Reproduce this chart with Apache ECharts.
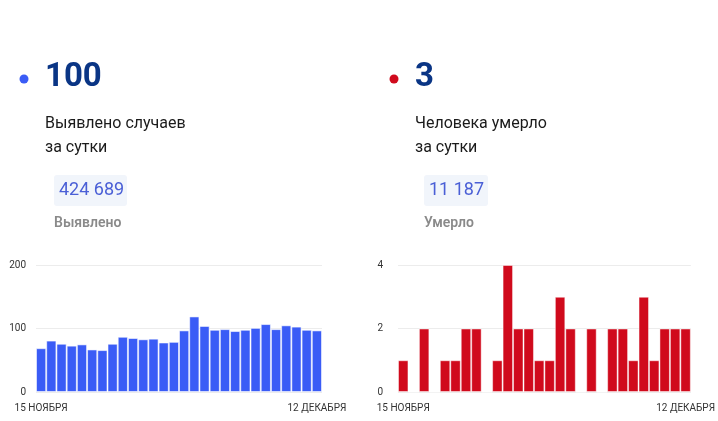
<!DOCTYPE html>
<html><head><meta charset="utf-8">
<script src="https://cdn.jsdelivr.net/npm/echarts@6/dist/echarts.min.js"></script>
<style>html,body{margin:0;padding:0;background:#fff}#c{width:718px;height:421px}</style>
</head><body><div id="c"></div>
<script>
const categories = ['15 ноября','16 ноября','17 ноября','18 ноября','19 ноября','20 ноября','21 ноября','22 ноября','23 ноября','24 ноября','25 ноября','26 ноября','27 ноября','28 ноября','29 ноября','30 ноября','1 декабря','2 декабря','3 декабря','4 декабря','5 декабря','6 декабря','7 декабря','8 декабря','9 декабря','10 декабря','11 декабря','12 декабря'];
const casesValues = [69,81,76,73,75,67,66,76,87,85,83,84,78,79,97,119,104,98,99,96,98,101,107,99,105,103,98,97];
const deathsValues = [1,0,2,0,1,1,2,2,0,1,4,2,2,1,1,3,2,0,2,0,2,2,1,3,1,2,2,2];
const casesTicks = [0,100,200];
const deathsTicks = [0,2,4];
const headline = {cases:'100', deaths:'3'};
const totals = {cases:'424 689', deaths:'11 187'};

const FONT = 'Roboto, "Noto Sans", sans-serif';
const chart = echarts.init(document.getElementById('c'), null, {renderer:'canvas'});

function xAxis(gi){
  return {
    type:'category', gridIndex:gi, data:categories, boundaryGap:true,
    axisLine:{show:false}, axisTick:{show:false},
    axisLabel:{
      color:'#333', fontSize:10, fontFamily:FONT, margin:11,
      interval:(i)=> i===0 || i===categories.length-1,
      formatter:(v)=>v.toUpperCase()
    }
  };
}
function yAxis(gi, ticks, margin){
  return {
    type:'value', gridIndex:gi, min:ticks[0], max:ticks[ticks.length-1],
    interval:ticks[1]-ticks[0],
    axisLine:{show:false}, axisTick:{show:false},
    splitLine:{lineStyle:{color:'#ececec', width:1}},
    axisLabel:{color:'#333', fontSize:10, fontFamily:FONT, margin:margin}
  };
}

function header(x, dotColor, big, l1, l2, total, label, boxW){
  return [
    {type:'circle', shape:{cx:x-21, cy:79, r:4.5}, style:{fill:dotColor}},
    {type:'text', x:x, y:78, style:{text:big, font:'bold 33px '+FONT, fill:'#0a3585', textVerticalAlign:'middle'}},
    {type:'text', x:x, y:124, style:{text:l1, font:'16px '+FONT, fill:'#1a1a1a', textVerticalAlign:'middle'}},
    {type:'text', x:x, y:148, style:{text:l2, font:'16px '+FONT, fill:'#1a1a1a', textVerticalAlign:'middle'}},
    {type:'rect', shape:{x:x+9, y:175, width:boxW, height:31, r:3}, style:{fill:'#f1f5fb'}},
    {type:'text', x:x+14, y:190.5, style:{text:total, font:'18px '+FONT, fill:'#4a5fd6', textVerticalAlign:'middle'}},
    {type:'text', x:x+9, y:223, style:{text:label, font:'600 14px '+FONT, fill:'#8a8a8a', textVerticalAlign:'middle'}}
  ];
}

chart.setOption({
  animation:false,
  textStyle:{fontFamily:FONT},
  grid:[
    {left:36, top:265, width:286, height:127},
    {left:398, top:265, width:294, height:127}
  ],
  xAxis:[xAxis(0), xAxis(1)],
  yAxis:[yAxis(0, casesTicks, 10), yAxis(1, deathsTicks, 15)],
  series:[
    {type:'bar', xAxisIndex:0, yAxisIndex:0, data:casesValues, barCategoryGap:'0%',
     itemStyle:{color:'#3a5cf6', borderColor:'rgba(255,255,255,0.55)', borderWidth:1}},
    {type:'bar', xAxisIndex:1, yAxisIndex:1, data:deathsValues, barCategoryGap:'0%',
     itemStyle:{color:'#d00a1c', borderColor:'rgba(255,255,255,0.45)', borderWidth:1}}
  ],
  graphic:[
    ...header(45, '#3a5cf6', headline.cases, 'Выявлено случаев', 'за сутки', totals.cases, 'Выявлено', 73),
    ...header(415, '#d00a1c', headline.deaths, 'Человека умерло', 'за сутки', totals.deaths, 'Умерло', 64)
  ]
});
</script></body></html>
